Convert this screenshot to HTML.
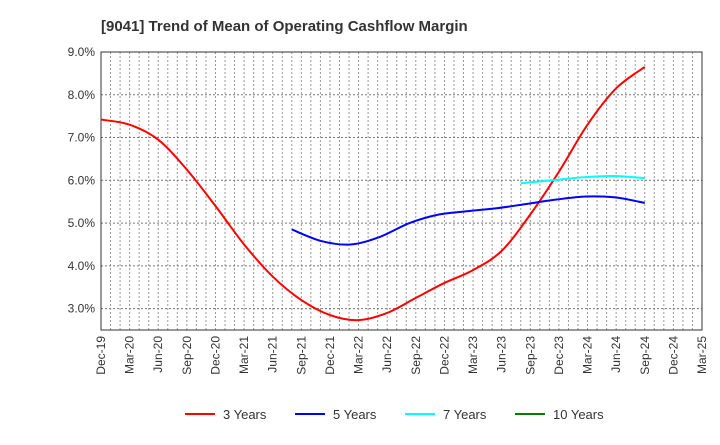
<!DOCTYPE html>
<html><head><meta charset="utf-8"><style>
body{margin:0;background:#fff;font-family:"Liberation Sans",sans-serif}
</style></head><body>
<svg id="c" width="720" height="440" xmlns="http://www.w3.org/2000/svg" style="font-family:'Liberation Sans',sans-serif">
<text x="101" y="31" font-size="15" font-weight="bold" fill="#333">[9041]  Trend of Mean of Operating Cashflow Margin</text>
<g id="grid"></g><g id="axes"></g><g id="series"></g><g id="legend"></g>
</svg>
<script>
const xLabels=["Dec-19","Mar-20","Jun-20","Sep-20","Dec-20","Mar-21","Jun-21","Sep-21","Dec-21","Mar-22","Jun-22","Sep-22","Dec-22","Mar-23","Jun-23","Sep-23","Dec-23","Mar-24","Jun-24","Sep-24","Dec-24","Mar-25"];
const yTicks=[3,4,5,6,7,8,9];
const s3=[7.42,7.3,6.95,6.25,5.4,4.5,3.75,3.2,2.85,2.73,2.9,3.25,3.6,3.9,4.35,5.2,6.2,7.3,8.15,8.65];
const s5=[4.85,4.58,4.5,4.68,5.0,5.2,5.28,5.35,5.45,5.55,5.62,5.6,5.47];
const s7=[5.93,6.0,6.07,6.1,6.05];
const s10=[];
const L=101,R=702,T=52,B=330,ymin=2.5,ymax=9.0;
const X=q=>L+(R-L)*q/63*3, Y=v=>B-(B-T)*(v-ymin)/(ymax-ymin);
const ns="http://www.w3.org/2000/svg";
function mk(t,a,p){const e=document.createElementNS(ns,t);for(const k in a)e.setAttribute(k,a[k]);p.appendChild(e);return e;}
const g=document.getElementById('grid'),ax=document.getElementById('axes'),se=document.getElementById('series'),lg=document.getElementById('legend');
for(let m=1;m<63;m++){const x=L+(R-L)*m/63;const l=mk('line',{x1:x,x2:x,y1:T,y2:B,stroke:'#999','stroke-dasharray':'2,2','stroke-width':1},g);

}
yTicks.forEach(v=>{const y=Y(v);const l=mk('line',{x1:L,x2:R,y1:y,y2:y,stroke:'#777','stroke-dasharray':'2,2'},g);


const t=mk('text',{x:L-6,y:y+4,'text-anchor':'end','font-size':12,fill:'#333'},ax);t.textContent=v.toFixed(1)+'%';

});
const fr=mk('rect',{x:L,y:T,width:R-L,height:B-T,fill:'none',stroke:'#333'},ax);


xLabels.forEach((s,i)=>{const x=X(i);const t=mk('text',{transform:`translate(${x+4},${B+6}) rotate(-90)`,'text-anchor':'end','font-size':12,fill:'#333'},ax);t.textContent=s;

});
function path(vals,start){const p=vals.map((v,i)=>[X(start+i),Y(v)]);if(p.length<2)return '';let d=`M${p[0][0]},${p[0][1]}`;
for(let i=0;i<p.length-1;i++){const p0=p[i-1]||p[i],p1=p[i],p2=p[i+1],p3=p[i+2]||p2;
d+=` C${p1[0]+(p2[0]-p0[0])/6},${p1[1]+(p2[1]-p0[1])/6} ${p2[0]-(p3[0]-p1[0])/6},${p2[1]-(p3[1]-p1[1])/6} ${p2[0]},${p2[1]}`;}return d;}
const ser=[[s3,0,'#ff0000','3 Years'],[s5,6.67,'#0000ff','5 Years'],[s7,14.67,'#00ffff','7 Years'],[s10,19,'#008000','10 Years']];
ser.forEach(([v,st,c,n],k)=>{
const sp=(19-st)/Math.max(1,v.length-1);
const d=path(v.map(x=>x),0).length?pathS(v,st,sp):'';
if(d){const p=mk('path',{d,fill:'none',stroke:c,'stroke-width':2},se);

}
const lx=185+k*110;const gg=mk('g',{},lg);


mk('line',{x1:lx,x2:lx+30,y1:414,y2:414,stroke:c,'stroke-width':2},gg);
const t=mk('text',{x:lx+38,y:419,'font-size':13,fill:'#333'},gg);t.textContent=n;});
function pathS(vals,start,sp){const p=vals.map((v,i)=>[X(start+i*sp),Y(v)]);let d=`M${p[0][0]},${p[0][1]}`;
for(let i=0;i<p.length-1;i++){const p0=p[i-1]||p[i],p1=p[i],p2=p[i+1],p3=p[i+2]||p2;
d+=` C${p1[0]+(p2[0]-p0[0])/6},${p1[1]+(p2[1]-p0[1])/6} ${p2[0]-(p3[0]-p1[0])/6},${p2[1]-(p3[1]-p1[1])/6} ${p2[0]},${p2[1]}`;}return d;}
</script>
</body></html>
